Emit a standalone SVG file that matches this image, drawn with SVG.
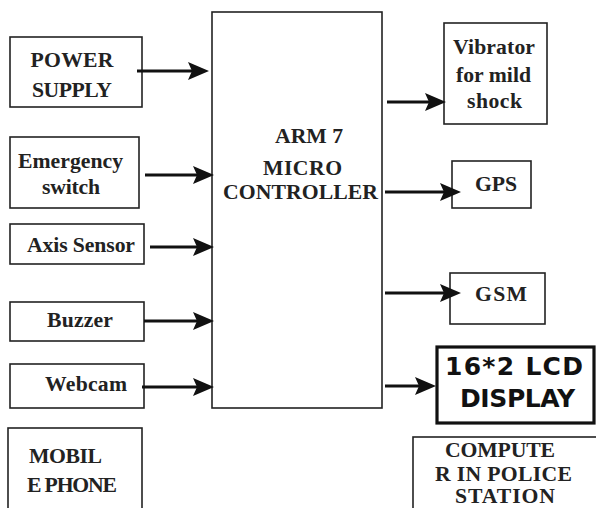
<svg xmlns="http://www.w3.org/2000/svg" width="596" height="508" viewBox="0 0 596 508">
<defs>
<style>
.box{fill:#fff;stroke:#222;stroke-width:1.6}
.thick{fill:#fff;stroke:#111;stroke-width:3.2}
.t{font-family:'Liberation Serif','Times New Roman',serif;font-weight:bold;font-size:21.7px;fill:#222;text-anchor:middle}
.lcd{font-family:'DejaVu Sans',sans-serif;font-weight:bold;font-size:25px;fill:#111;text-anchor:middle}
.c{stroke:#111;stroke-width:3;fill:none;marker-end:url(#ah)}
</style>
<marker id="ah" markerUnits="userSpaceOnUse" markerWidth="22" markerHeight="18" refX="10" refY="9" orient="auto">
<path d="M0,0 L21,9 L0,18 L4,9 z" fill="#111"/>
</marker>
</defs>
<rect width="596" height="508" fill="#fff"/>

<g id="mcu">
<rect class="box" x="212" y="12" width="170" height="396"/>
<text class="t" x="309" y="143" textLength="68">ARM 7</text>
<text class="t" x="302.5" y="175" textLength="79">MICRO</text>
<text class="t" x="300.5" y="199" textLength="155">CONTROLLER</text>
</g>

<g id="power">
<rect class="box" x="10" y="37" width="132" height="70"/>
<text class="t" x="72" y="67" textLength="83">POWER</text>
<text class="t" x="72" y="97" textLength="80">SUPPLY</text>
</g>

<g id="emergency">
<rect class="box" x="10" y="137" width="129" height="71"/>
<text class="t" x="70.5" y="168" textLength="105">Emergency</text>
<text class="t" x="71" y="194" textLength="58">switch</text>
</g>

<g id="axis">
<rect class="box" x="10" y="224" width="134" height="40"/>
<text class="t" x="81" y="252" textLength="108">Axis Sensor</text>
</g>

<g id="buzzer">
<rect class="box" x="10" y="302" width="134" height="39"/>
<text class="t" x="80" y="327" textLength="66">Buzzer</text>
</g>

<g id="webcam">
<rect class="box" x="10" y="364" width="134" height="44"/>
<text class="t" x="86" y="391" textLength="82">Webcam</text>
</g>

<g id="mobile">
<rect class="box" x="8" y="428" width="134" height="90"/>
<text class="t" x="65.5" y="463" textLength="73">MOBIL</text>
<text class="t" x="72" y="492" textLength="90">E PHONE</text>
</g>

<g id="vibrator">
<rect class="box" x="444" y="23" width="103" height="101"/>
<text class="t" x="494" y="54" textLength="82">Vibrator</text>
<text class="t" x="493.5" y="82" textLength="75">for mild</text>
<text class="t" x="494.5" y="108" textLength="55">shock</text>
</g>

<g id="gps">
<rect class="box" x="452" y="161" width="79" height="47"/>
<text class="t" x="496" y="191" textLength="42">GPS</text>
</g>

<g id="gsm">
<rect class="box" x="450" y="273" width="95" height="51"/>
<text class="t" x="501" y="301" textLength="52">GSM</text>
</g>

<g id="lcd">
<rect class="thick" x="437" y="347" width="157" height="76"/>
<text class="lcd" x="514" y="375" textLength="138">16*2 LCD</text>
<text class="lcd" x="517.5" y="407" textLength="115">DISPLAY</text>
</g>

<g id="computer">
<rect class="box" x="413" y="437" width="200" height="90"/>
<text class="t" x="500" y="457" textLength="110">COMPUTE</text>
<text class="t" x="503.5" y="481" textLength="137">R IN POLICE</text>
<text class="t" x="505" y="503" textLength="100">STATION</text>
</g>

<g id="connectors">
<line class="c" x1="137" y1="71" x2="198" y2="71"/>
<line class="c" x1="145" y1="175" x2="203" y2="175"/>
<line class="c" x1="150" y1="247" x2="203" y2="247"/>
<line class="c" x1="144" y1="321" x2="203" y2="321"/>
<line class="c" x1="142" y1="387" x2="203" y2="387"/>
<line class="c" x1="387" y1="102" x2="435" y2="102"/>
<line class="c" x1="385" y1="192" x2="450" y2="192"/>
<line class="c" x1="385" y1="293" x2="450" y2="293"/>
<line class="c" x1="385" y1="386" x2="425" y2="386"/>
</g>
</svg>
